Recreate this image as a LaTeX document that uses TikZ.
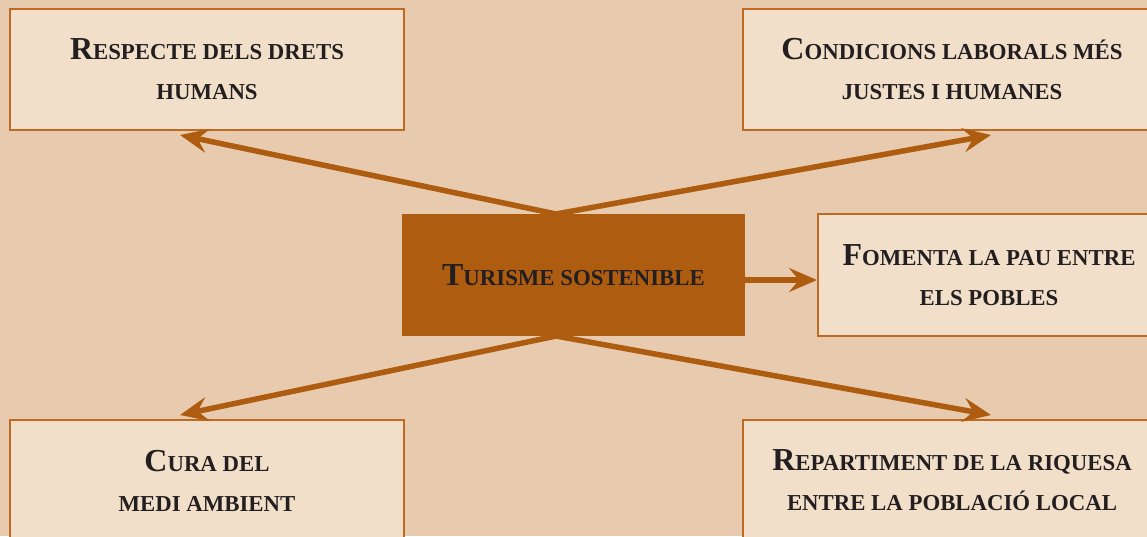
\documentclass[tikz,border=0pt]{standalone}
\usepackage{fontspec}
\setmainfont{Liberation Serif}
\usetikzlibrary{arrows.meta,calc}
\definecolor{bg}{HTML}{E8CBAE}
\definecolor{boxfill}{HTML}{F2DFCA}
\definecolor{boxline}{HTML}{BF6A22}
\definecolor{tbrown}{HTML}{AD5C10}
\definecolor{ink}{HTML}{231F20}
\newcommand\BigInit[1]{{\fontsize{32}{40}\selectfont #1}}
\begin{document}
\begin{tikzpicture}[x=1pt,y=-1pt,
  box/.style={draw=boxline,line width=2pt,fill=boxfill,minimum height=121pt,
    text=ink,align=center,font=\bfseries\fontsize{22.8}{40}\selectfont,inner sep=0pt},
  hub/.style={fill=tbrown,minimum width=343pt,minimum height=122pt,
    text=ink,align=center,font=\bfseries\fontsize{22.8}{40}\selectfont,inner sep=0pt},
  arr/.style={draw=tbrown,line width=5.5pt,-{Stealth[length=28pt,width=24pt,inset=10pt]}}]
\fill[bg] (0,0) rectangle (1147,536);
\useasboundingbox (0,0) rectangle (1147,536);
\clip (0,0) rectangle (1147,536);
\node[box,minimum width=394pt] (tl) at (207,69.5) {\BigInit{R}ESPECTE DELS DRETS\\HUMANS};
\node[box,minimum width=418pt] (tr) at (952,69.5) {\BigInit{C}ONDICIONS LABORALS MÉS\\JUSTES I HUMANES};
\node[box,minimum width=342pt,minimum height=122pt] (mr) at (989,275) {\BigInit{F}OMENTA LA PAU ENTRE\\ELS POBLES};
\node[box,minimum width=394pt] (bl) at (207,480.5) {\BigInit{C}URA DEL\\MEDI AMBIENT};
\node[box,minimum width=418pt] (br) at (952,480.5) {\BigInit{R}EPARTIMENT DE LA RIQUESA\\ENTRE LA POBLACIÓ LOCAL};
\node[hub] (c) at (573.5,275) {\BigInit{T}URISME SOSTENIBLE};
\coordinate (ct) at (556,214);
\coordinate (cb) at (556,336);
\coordinate (etl) at (180,135);
\coordinate (etr) at (991,135);
\coordinate (ebl) at (180,415);
\coordinate (ebr) at (991,415);
\draw[arr] (ct) -- (etl);
\draw[arr] (ct) -- (etr);
\draw[arr] (cb) -- (ebl);
\draw[arr] (cb) -- (ebr);
\draw[arr] ([yshift=-5pt]c.east) -- ([yshift=-5pt]mr.west);
\end{tikzpicture}
\end{document}
